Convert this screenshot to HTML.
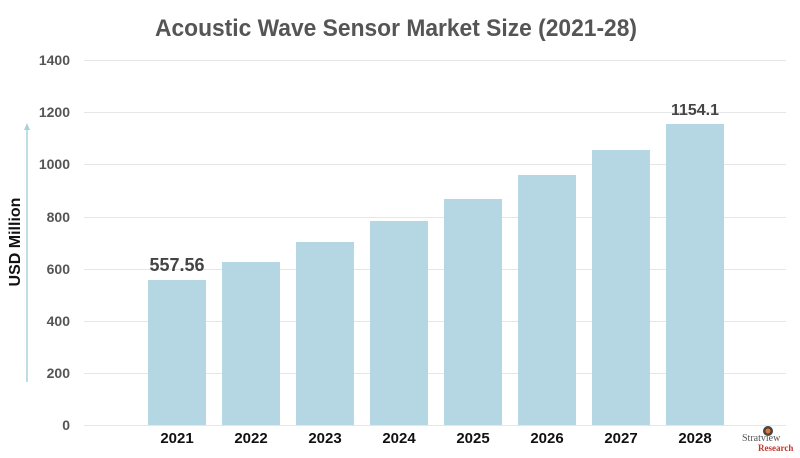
<!DOCTYPE html>
<html><head><style>html,body{margin:0;padding:0;background:#fff}svg{display:block}</style></head><body>
<svg width="800" height="458" xmlns="http://www.w3.org/2000/svg" font-family="Liberation Sans, sans-serif">
<text x="155" y="36" font-size="24" font-weight="bold" fill="#555" textLength="482" lengthAdjust="spacingAndGlyphs">Acoustic Wave Sensor Market Size (2021-28)</text>
<g stroke="#e6e6e6" stroke-width="1">
<line x1="84" x2="786" y1="60.5" y2="60.5"/><line x1="84" x2="786" y1="112.5" y2="112.5"/><line x1="84" x2="786" y1="164.5" y2="164.5"/><line x1="84" x2="786" y1="217.5" y2="217.5"/><line x1="84" x2="786" y1="269.5" y2="269.5"/><line x1="84" x2="786" y1="321.5" y2="321.5"/><line x1="84" x2="786" y1="373.5" y2="373.5"/><line x1="84" x2="786" y1="425.5" y2="425.5"/>
</g>
<g font-size="14" font-weight="bold" fill="#555" text-anchor="end">
<text x="70" y="65">1400</text><text x="70" y="117">1200</text><text x="70" y="169">1000</text><text x="70" y="222">800</text><text x="70" y="274">600</text><text x="70" y="326">400</text><text x="70" y="378">200</text><text x="70" y="430">0</text>
</g>
<line x1="27" y1="382" x2="27" y2="128" stroke="#a9d3dc" stroke-width="1.5"/>
<polygon points="27,123 24,130 30,130" fill="#a9d3dc"/>
<text transform="translate(20,242) rotate(-90)" text-anchor="middle" font-size="16" font-weight="bold" fill="#111">USD Million</text>
<g fill="#b5d6e3">
<rect x="148" y="280" width="58" height="145"/>
<rect x="222" y="262" width="58" height="163"/>
<rect x="296" y="242" width="58" height="183"/>
<rect x="370" y="221" width="58" height="204"/>
<rect x="444" y="199" width="58" height="226"/>
<rect x="518" y="175" width="58" height="250"/>
<rect x="592" y="150" width="58" height="275"/>
<rect x="666" y="124" width="58" height="301"/>
</g>
<g font-size="15" font-weight="bold" fill="#111" text-anchor="middle">
<text x="177" y="443">2021</text><text x="251" y="443">2022</text><text x="325" y="443">2023</text><text x="399" y="443">2024</text><text x="473" y="443">2025</text><text x="547" y="443">2026</text><text x="621" y="443">2027</text><text x="695" y="443">2028</text>
</g>
<g font-size="18" font-weight="bold" fill="#444" text-anchor="middle">
<text x="177" y="271">557.56</text><text x="695" y="115" font-size="16">1154.1</text>
</g>
<circle cx="768" cy="431" r="5" fill="#444"/><circle cx="768" cy="431" r="2.5" fill="#e8742a"/>
<text x="742" y="441" font-family="Liberation Serif, serif" font-size="10" fill="#555">Stratview</text>
<text x="758" y="451" font-family="Liberation Serif, serif" font-size="9" font-weight="bold" fill="#c0392b">Research</text>
</svg>
</body></html>
